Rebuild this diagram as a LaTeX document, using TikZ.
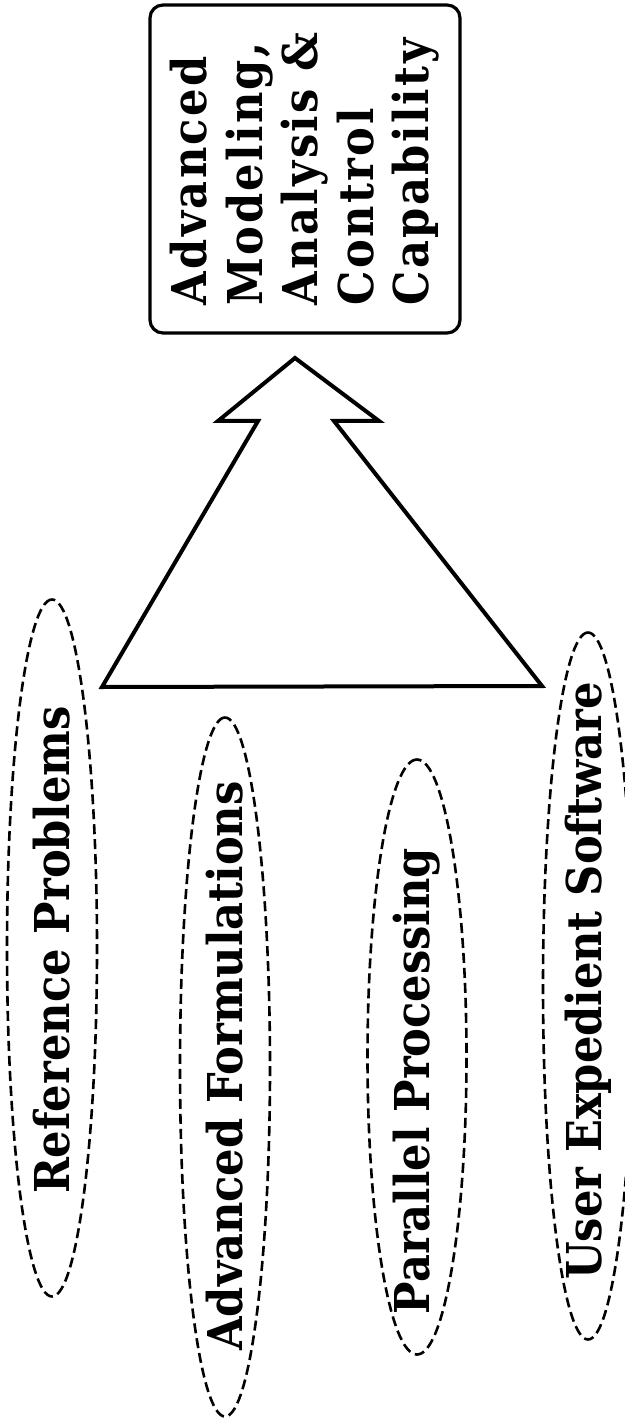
\documentclass[tikz,border=0pt]{standalone}
\usepackage{fontspec}
\setmainfont{DejaVu Serif Condensed}
\newfontfamily\goalfont{DejaVu Serif Condensed}[LetterSpace=5]
\usetikzlibrary{shapes.geometric}
\definecolor{ink}{HTML}{000000}
\newcommand{\LabelF}{\fontsize{24}{27.75}\selectfont\bfseries}
\tikzset{
  oval/.style={ellipse, draw=ink, dashed, dash pattern=on 5pt off 2.5pt,
    line width=1.3pt, inner sep=0pt, rotate=90},
  ovaltext/.style={font=\LabelF, text=ink, inner sep=0pt, rotate=90},
  goalbox/.style={draw=ink, line width=1.6pt, rounded corners=6.5pt,
    inner sep=0pt, rotate=90, align=left, font=\goalfont\LabelF, text=ink},
  bigarrow/.style={draw=ink, line width=2pt, line join=miter},
}
% name, x, y, length, width, text y, text
\newcommand{\goaloval}[7]{%
  \node[oval, minimum width=#4, minimum height=#5] (#1) at (#2,#3) {};
  \node[ovaltext] (#1-text) at (#2,#6) {#7};
}
\begin{document}
\begin{tikzpicture}[x=0.5pt,y=-0.5pt]
\clip (0,0) rectangle (625,1422);
\node[goalbox, minimum width=164pt, minimum height=155pt] (goal) at (305,169)
  {Advanced\\Modeling,\\Analysis \&\\Control\\Capability};
\goaloval{refprob}{52}{948}{348.5pt}{45pt}{950}{Reference Problems}
\goaloval{advform}{225}{1067}{349.5pt}{45pt}{1066}{Advanced Formulations}
\goaloval{parproc}{417}{1057}{297.5pt}{49.5pt}{1081}{Parallel Processing}
\goaloval{usersoft}{588}{986}{353.5pt}{45pt}{981}{User Expedient Software}
% big arrow up to the goal
\coordinate (tip) at (295,358);
\coordinate (rbarb) at (379,421);
\coordinate (rnotch) at (334,421);
\coordinate (rbase) at (542,686);
\coordinate (lbase) at (102,687);
\coordinate (lnotch) at (258,421);
\coordinate (lbarb) at (218,421);
\draw[bigarrow] (tip) -- (rbarb) -- (rnotch) -- (rbase) -- (lbase)
  -- (lnotch) -- (lbarb) -- cycle;
\end{tikzpicture}
\end{document}
